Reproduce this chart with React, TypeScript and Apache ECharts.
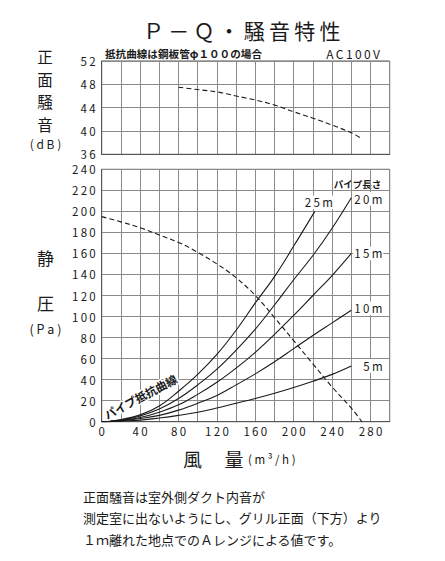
import React, { useEffect, useRef } from "react";
import * as echarts from "echarts";

// ---- data ----
const noiseCurve: [number, number][] = [
  [80, 47.5], [100, 47.1], [120, 46.7], [140, 46.0], [160, 45.3], [180, 44.45],
  [200, 43.3], [220, 42.2], [240, 41.0], [260, 39.7], [269, 38.85],
];
const pqCurve: [number, number][] = [
  [0, 195], [20, 190], [40, 184.5], [60, 177.5], [80, 170.5], [100, 161], [120, 150],
  [140, 137], [160, 120], [180, 99], [200, 77], [220, 55], [240, 33], [260, 13], [271, 0],
];
const pipe25m: [number, number][] = [
  [0, 0], [20, 2], [40, 6.5], [60, 15], [80, 29], [100, 45], [120, 64], [140, 87],
  [160, 113], [180, 138], [200, 167], [222, 200],
];
const pipe20m: [number, number][] = [
  [0, 0], [20, 1.5], [40, 5.5], [60, 12], [80, 22], [100, 35], [120, 50], [140, 68],
  [160, 88], [180, 111], [200, 135], [220, 158], [240, 184], [260, 213],
];
const pipe15m: [number, number][] = [
  [0, 0], [20, 1], [40, 4], [60, 9], [80, 16], [100, 26], [120, 37.5], [140, 51],
  [160, 66], [180, 83], [200, 101], [220, 120], [240, 139], [260, 160],
];
const pipe10m: [number, number][] = [
  [0, 0], [20, 0.8], [40, 3], [60, 6], [80, 11], [100, 17.5], [120, 25], [140, 35],
  [160, 45.5], [180, 57], [200, 69.5], [220, 82], [240, 94], [260, 106],
];
const pipe5m: [number, number][] = [
  [0, 0], [20, 0.5], [40, 1.5], [60, 3.5], [80, 6], [100, 9], [120, 13], [140, 17.5],
  [160, 22], [180, 27], [200, 32.5], [220, 38.5], [240, 45], [260, 53],
];
const pipeLabels = ["25m", "20m", "15m", "10m", "5m"];

const flowRange = [0, 300];
const flowStep = 20;
const noiseRange = [36, 52];
const noiseStep = 4;
const pressureRange = [0, 240];
const pressureStep = 20;

const titleText = "Ｐ－Ｑ・騒音特性";
const subtitleText = "抵抗曲線は鋼板管φ１００の場合";
const voltageText = "AC100V";
const noiseAxisChars = ["正", "面", "騒", "音"];
const noteLines = [
  "正面騒音は室外側ダクト内音が",
  "測定室に出ないようにし、グリル正面（下方）より",
  "１ｍ離れた地点でのＡレンジによる値です。",
];

const FONT = "'Noto Sans CJK JP', 'Noto Sans', sans-serif";
const INK = "#1a1a1a";
const GRIDC = "#8a8a8a";
const sp = (s: string | number) => String(s).split("").join("\u2009");

export default function App() {
  const ref = useRef<HTMLDivElement>(null);
  useEffect(() => {
    document.body.style.margin = "0";
    const chart = echarts.init(ref.current!, null, { renderer: "svg" });

    const gridLeft = 101.7;
    const gridRight = 445 - 389.7;
    const pipeSets = [pipe25m, pipe20m, pipe15m, pipe10m, pipe5m];
    const labelCfg = [
      { offset: [-11, -9], distance: 0 },
      { offset: [0, 1], distance: 2 },
      { offset: [0, 0], distance: 2 },
      { offset: [0, -2], distance: 2 },
      { offset: [0, 0], distance: 11 },
    ];

    const labelStyle = { color: INK, fontFamily: FONT, fontSize: 11.5 };

    const option: any = {
      animation: false,
      grid: [
        { left: gridLeft, right: gridRight, top: 61, height: 93.3, show: true, borderColor: "#555", borderWidth: 1, backgroundColor: "transparent" },
        { left: gridLeft, right: gridRight, top: 169.3, height: 252.4, show: true, borderColor: "#555", borderWidth: 1, backgroundColor: "transparent" },
      ],
      xAxis: [
        {
          type: "value", gridIndex: 0, min: flowRange[0], max: flowRange[1], interval: flowStep,
          axisLabel: { show: false }, axisTick: { show: false },
          axisLine: { show: true, lineStyle: { color: "#555", width: 1 } },
          splitLine: { show: true, lineStyle: { color: GRIDC, width: 1 } },
        },
        {
          type: "value", gridIndex: 1, min: flowRange[0], max: flowRange[1], interval: flowStep,
          axisTick: { show: false },
          axisLine: { show: true, lineStyle: { color: "#555", width: 1 } },
          splitLine: { show: true, lineStyle: { color: GRIDC, width: 1 } },
          axisLabel: {
            ...labelStyle, margin: 4, showMaxLabel: true,
            formatter: (v: number) => (v % 40 === 0 && v < 300 ? sp(v) : ""),
          },
        },
      ],
      yAxis: [
        {
          type: "value", gridIndex: 0, min: noiseRange[0], max: noiseRange[1], interval: noiseStep,
          axisTick: { show: false },
          axisLine: { show: true, lineStyle: { color: "#555", width: 1 } },
          splitLine: { show: true, lineStyle: { color: GRIDC, width: 1 } },
          axisLabel: { ...labelStyle, margin: 6, formatter: (v: number) => sp(v) },
        },
        {
          type: "value", gridIndex: 1, min: pressureRange[0], max: pressureRange[1], interval: pressureStep,
          axisTick: { show: false },
          axisLine: { show: true, lineStyle: { color: "#555", width: 1 } },
          splitLine: { show: true, lineStyle: { color: GRIDC, width: 1 } },
          axisLabel: { ...labelStyle, margin: 6, formatter: (v: number) => sp(v) },
        },
      ],
      series: [
        {
          type: "line", xAxisIndex: 0, yAxisIndex: 0, data: noiseCurve, smooth: 0.4,
          showSymbol: false, silent: true,
          lineStyle: { color: INK, width: 1.1, type: [5, 3] },
        },
        {
          type: "line", xAxisIndex: 1, yAxisIndex: 1, data: pqCurve, smooth: 0.4,
          showSymbol: false, silent: true,
          lineStyle: { color: INK, width: 1.1, type: [5, 3] },
        },
        ...pipeSets.map((d, i) => ({
          type: "line", xAxisIndex: 1, yAxisIndex: 1, data: d, smooth: 0.4,
          showSymbol: false, silent: true,
          lineStyle: { color: INK, width: 1.1 },
          endLabel: {
            show: true,
            formatter: sp(pipeLabels[i]),
            ...labelStyle,
            distance: labelCfg[i].distance,
            offset: labelCfg[i].offset,
            backgroundColor: "#fff",
            padding: [1, 1],
          },
        })),
      ],
      graphic: [
        { type: "text", x: 241.7, y: 30, style: { text: titleText.split("").join("\u2009"), font: `21px ${FONT}`, fill: INK, align: "center", verticalAlign: "middle" } },
        { type: "text", x: 105, y: 53.5, style: { text: subtitleText, font: `bold 10.6px ${FONT}`, fill: INK, align: "left", verticalAlign: "middle" } },
        { type: "text", x: 380, y: 53.5, style: { text: sp(voltageText), font: `12px ${FONT}`, fill: INK, align: "right", verticalAlign: "middle" } },
        ...noiseAxisChars.map((c, i) => ({
          type: "text", x: 45, y: 56 + i * 22.5,
          style: { text: c, font: `15.5px ${FONT}`, fill: INK, align: "center", verticalAlign: "middle" },
        })),
        { type: "text", x: 45.5, y: 143, style: { text: "( d B )", font: `12px ${FONT}`, fill: INK, align: "center", verticalAlign: "middle" } },
        { type: "text", x: 45.5, y: 257, style: { text: "静", font: `17px ${FONT}`, fill: INK, align: "center", verticalAlign: "middle" } },
        { type: "text", x: 45.5, y: 302, style: { text: "圧", font: `17px ${FONT}`, fill: INK, align: "center", verticalAlign: "middle" } },
        { type: "text", x: 45.5, y: 328, style: { text: "( P a )", font: `12.5px ${FONT}`, fill: INK, align: "center", verticalAlign: "middle" } },
        { type: "text", x: 192.5, y: 458, style: { text: "風", font: `19px ${FONT}`, fill: INK, align: "center", verticalAlign: "middle" } },
        { type: "text", x: 234, y: 458, style: { text: "量", font: `19px ${FONT}`, fill: INK, align: "center", verticalAlign: "middle" } },
        { type: "text", x: 248, y: 459, style: { text: "( m ³ / h )", font: `11.5px ${FONT}`, fill: INK, align: "left", verticalAlign: "middle" } },
        { type: "text", x: 357.5, y: 183.5, style: { text: "パイプ長さ", font: `bold 9.5px ${FONT}`, fill: INK, align: "center", verticalAlign: "middle" } },
        {
          type: "text", x: 140.5, y: 396.5, rotation: (28 * Math.PI) / 180,
          style: { text: "パイプ抵抗曲線", font: `bold 11.5px ${FONT}`, fill: INK, align: "center", verticalAlign: "middle", stroke: "#fff", lineWidth: 3 },
          z: 100,
        },
        ...noteLines.map((t, i) => ({
          type: "text", x: 83, y: 496.7 + i * 21.2,
          style: { text: t, font: `13px ${FONT}`, fill: INK, align: "left", verticalAlign: "middle" },
        })),
      ],
    };
    chart.setOption(option);
    return () => chart.dispose();
  }, []);
  return <div ref={ref} style={{ width: 445, height: 561, background: "#fff" }} />;
}
